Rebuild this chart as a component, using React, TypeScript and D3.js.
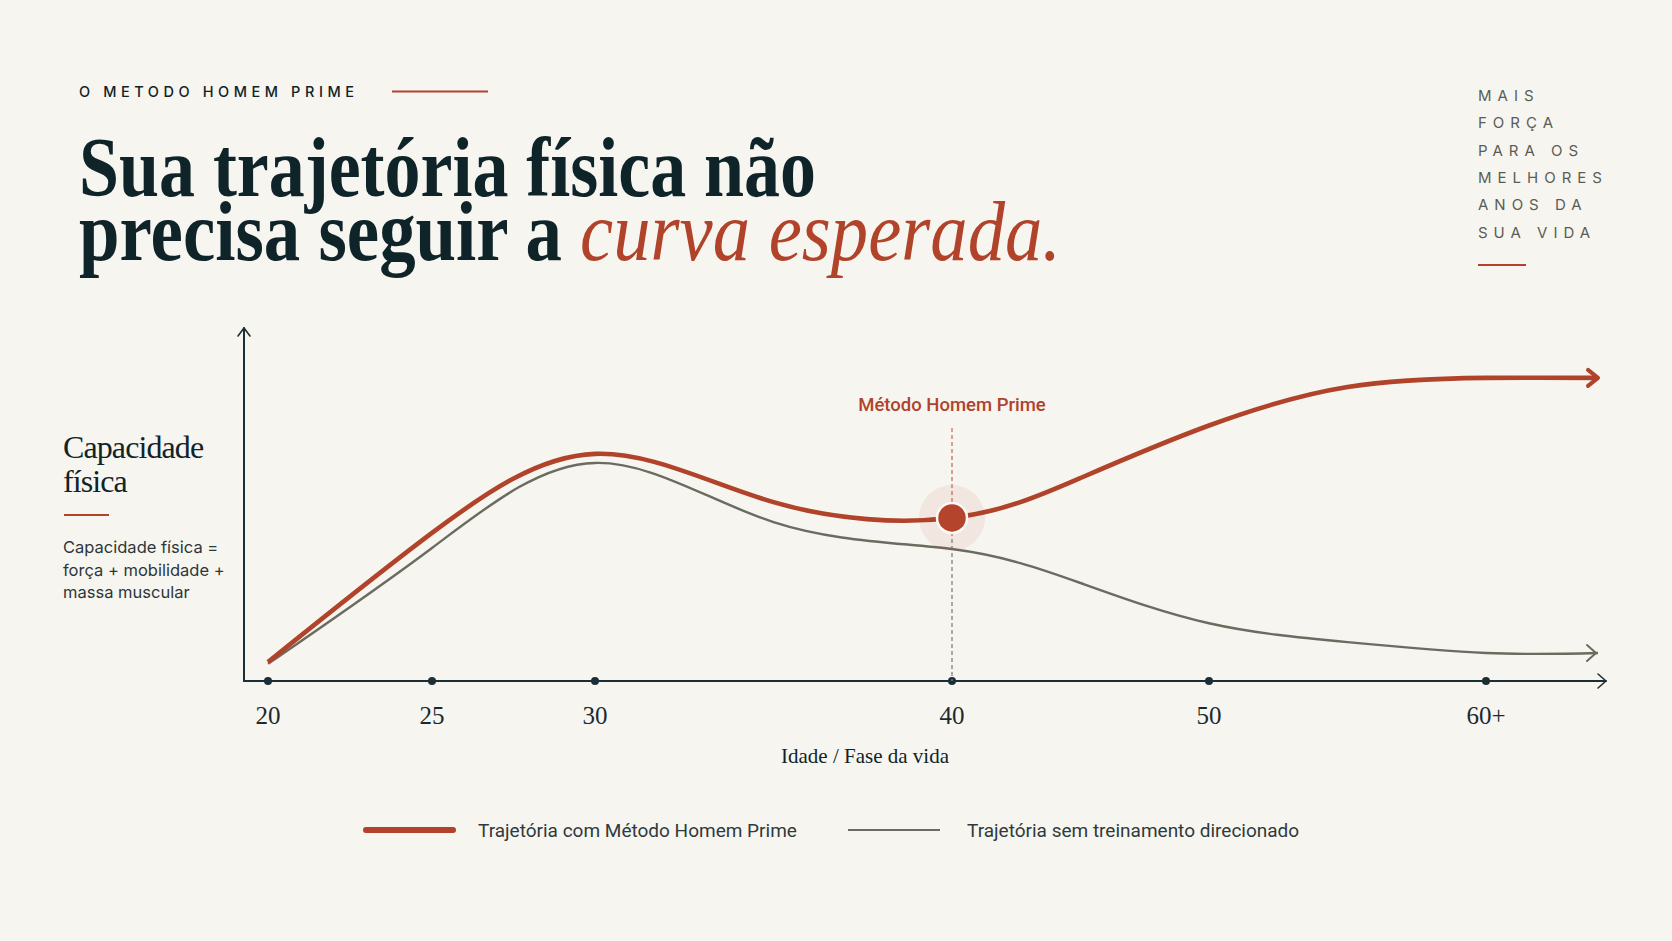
import { useRef, useEffect } from 'react'
import * as d3 from 'd3'

// data (capacity index 0-100)
const ages = [20, 25, 30, 35, 40, 45, 50, 55, 60, 65]
const withMethod = [5.4, 42.3, 64.9, 51.1, 46.6, 58, 73, 84, 86.6, 86.6]
const withoutTraining = [4.9, 38, 62.3, 45.4, 37.7, 28, 16.5, 11.1, 8, 8]
const tickAges = [20, 25, 30, 40, 50, 60]
const tickLabels = ['20', '25', '30', '40', '50', '60+']
const markerAge = 40
const sideWords = ['MAIS', 'FORÇA', 'PARA OS', 'MELHORES', 'ANOS DA', 'SUA VIDA']
const formulaLines = ['Capacidade física =', 'força + mobilidade +', 'massa muscular']
const legendItems = ['Trajetória com Método Homem Prime', 'Trajetória sem treinamento direcionado']

const W = 1672
const H = 941
const BG = '#f7f5f0'
const INK = '#0f2428'
const RED = '#b0432a'
const GRAY = '#6a6c60'
const SERIF = '"Liberation Serif", "DejaVu Serif", serif'
const SANS = 'Inter, "Liberation Sans", sans-serif'
const COND = 'Roboto, "Liberation Sans", sans-serif'

export default function App() {
  const svgRef = useRef<SVGSVGElement>(null)

  useEffect(() => {
    document.body.style.margin = '0'
    document.body.style.background = BG
    if (!svgRef.current) return
    const svg = d3.select(svgRef.current)
    svg.selectAll('*').remove()

    svg.append('rect').attr('width', W).attr('height', H).attr('fill', BG)

    // life-phase axis is not linear, so a piecewise scale
    const x = d3.scaleLinear()
      .domain([20, 25, 30, 40, 50, 60, 65])
      .range([268, 432, 595, 952, 1209, 1486, 1598])
    const y = d3.scaleLinear().domain([0, 100]).range([681, 331])

    const axisLeftX = 244
    const axisRightX = 1606

    // ---- header
    svg.append('text')
      .attr('x', 79).attr('y', 97)
      .attr('font-family', SANS).attr('font-size', 14.5).attr('font-weight', 500)
      .attr('fill', INK)
      .attr('textLength', 275)
      .text('O METODO HOMEM PRIME')
    svg.append('line')
      .attr('x1', 392).attr('x2', 488).attr('y1', 91.5).attr('y2', 91.5)
      .attr('stroke', RED).attr('stroke-width', 2)

    const headline = [
      { t: 'Sua trajetória física não', x: 79, y: 196, w: 737, c: INK, italic: false },
      { t: 'precisa seguir a', x: 79, y: 260, w: 483, c: INK, italic: false },
      { t: 'curva esperada.', x: 580, y: 260, w: 481, c: RED, italic: true }
    ]
    svg.append('g').selectAll('text')
      .data(headline)
      .enter()
      .append('text')
      .attr('x', d => d.x).attr('y', d => d.y)
      .attr('font-family', SERIF).attr('font-size', 84)
      .attr('font-weight', d => d.italic ? 400 : 700)
      .attr('font-style', d => d.italic ? 'italic' : 'normal')
      .attr('fill', d => d.c)
      .attr('textLength', d => d.w)
      .attr('lengthAdjust', 'spacingAndGlyphs')
      .text(d => d.t)

    // right column
    svg.append('g').selectAll('text')
      .data(sideWords)
      .enter()
      .append('text')
      .attr('x', 1478).attr('y', (_, i) => 101 + i * 27.3)
      .attr('font-family', SANS).attr('font-size', 15)
      .attr('letter-spacing', 6)
      .attr('fill', '#5a5d56')
      .text(d => d)
    svg.append('line')
      .attr('x1', 1478).attr('x2', 1526).attr('y1', 265).attr('y2', 265)
      .attr('stroke', RED).attr('stroke-width', 2)

    // ---- y label block
    svg.append('g').selectAll('text')
      .data(['Capacidade', 'física'])
      .enter()
      .append('text')
      .attr('x', 63).attr('y', (_, i) => 458 + i * 34)
      .attr('font-family', SERIF).attr('font-size', 32)
      .attr('letter-spacing', -0.9)
      .attr('fill', INK)
      .text(d => d)
    svg.append('line')
      .attr('x1', 64).attr('x2', 109).attr('y1', 515).attr('y2', 515)
      .attr('stroke', RED).attr('stroke-width', 2)
    svg.append('g').selectAll('text')
      .data(formulaLines)
      .enter()
      .append('text')
      .attr('x', 63).attr('y', (_, i) => 553 + i * 22.5)
      .attr('font-family', SANS).attr('font-size', 16.5)
      .attr('fill', '#2c373a')
      .text(d => d)

    // ---- axes
    const axisG = svg.append('g').attr('stroke', '#1c2f36').attr('fill', 'none')
      .attr('stroke-width', 2).attr('stroke-linecap', 'round').attr('stroke-linejoin', 'round')
    axisG.append('line')
      .attr('x1', axisLeftX).attr('x2', axisLeftX)
      .attr('y1', y(0)).attr('y2', y(100) - 3)
    axisG.append('path')
      .attr('stroke-width', 1.6)
      .attr('d', `M${axisLeftX - 6},${y(100) + 5}L${axisLeftX},${y(100) - 3}L${axisLeftX + 6},${y(100) + 5}`)
    axisG.append('line')
      .attr('x1', axisLeftX).attr('x2', axisRightX)
      .attr('y1', y(0)).attr('y2', y(0))
    axisG.append('path')
      .attr('stroke-width', 1.6)
      .attr('d', `M${axisRightX - 8},${y(0) - 7}L${axisRightX},${y(0)}L${axisRightX - 8},${y(0) + 7}`)

    svg.append('g').selectAll('circle')
      .data(tickAges)
      .enter()
      .append('circle')
      .attr('cx', d => x(d)).attr('cy', y(0)).attr('r', 4)
      .attr('fill', '#1c2f36')

    svg.append('g').selectAll('text')
      .data(tickAges)
      .enter()
      .append('text')
      .attr('x', d => x(d)).attr('y', 724)
      .attr('text-anchor', 'middle')
      .attr('font-family', SERIF).attr('font-size', 25)
      .attr('fill', '#1a2a30')
      .text((_, i) => tickLabels[i])

    svg.append('text')
      .attr('x', 865).attr('y', 763)
      .attr('text-anchor', 'middle')
      .attr('font-family', SERIF).attr('font-size', 21)
      .attr('fill', INK)
      .text('Idade / Fase da vida')

    // ---- marker guide at 40
    const mIdx = ages.indexOf(markerAge)
    const mx = x(markerAge)
    const my = y(withMethod[mIdx])
    svg.append('line')
      .attr('x1', mx).attr('x2', mx).attr('y1', 428).attr('y2', my)
      .attr('stroke', '#c8715c').attr('stroke-width', 1.3).attr('stroke-dasharray', '4,3')
    svg.append('line')
      .attr('x1', mx).attr('x2', mx).attr('y1', my).attr('y2', y(0))
      .attr('stroke', '#8a7d78').attr('stroke-width', 1.3).attr('stroke-dasharray', '4,3')

    svg.append('text')
      .attr('x', mx).attr('y', 411)
      .attr('text-anchor', 'middle')
      .attr('font-family', COND).attr('font-size', 18.5).attr('font-weight', 500)
      .attr('fill', RED)
      .text('Método Homem Prime')

    // ---- curves
    const line = d3.line<number>()
      .x((_, i) => x(ages[i]))
      .y(d => y(d))
      .curve(d3.curveNatural)

    const n = ages.length
    svg.append('path')
      .datum(withoutTraining)
      .attr('d', line)
      .attr('fill', 'none').attr('stroke', GRAY).attr('stroke-width', 2.4)
    const gx = x(ages[n - 1]) - 2
    const gy = y(withoutTraining[n - 1])
    svg.append('path')
      .attr('d', `M${gx - 9},${gy - 8}L${gx},${gy}L${gx - 9},${gy + 8}`)
      .attr('fill', 'none').attr('stroke', GRAY).attr('stroke-width', 2)
      .attr('stroke-linecap', 'round').attr('stroke-linejoin', 'round')

    svg.append('path')
      .datum(withMethod)
      .attr('d', line)
      .attr('fill', 'none').attr('stroke', RED).attr('stroke-width', 4.6)
    const rx = x(ages[n - 1])
    const ry = y(withMethod[n - 1])
    svg.append('path')
      .attr('d', `M${rx - 10},${ry - 8}L${rx},${ry}L${rx - 10},${ry + 8}`)
      .attr('fill', 'none').attr('stroke', RED).attr('stroke-width', 4)
      .attr('stroke-linecap', 'round').attr('stroke-linejoin', 'round')

    // highlighted point
    svg.append('circle')
      .attr('cx', mx).attr('cy', my).attr('r', 33)
      .attr('fill', RED).attr('fill-opacity', 0.08)
    svg.append('circle')
      .attr('cx', mx).attr('cy', my).attr('r', 15)
      .attr('fill', '#b4442b').attr('stroke', '#fbf9f5').attr('stroke-width', 2.5)

    // ---- legend
    const legend = svg.append('g').attr('transform', 'translate(0,830)')
    legend.append('line')
      .attr('x1', 366).attr('x2', 453).attr('y1', 0).attr('y2', 0)
      .attr('stroke', RED).attr('stroke-width', 6).attr('stroke-linecap', 'round')
    legend.append('line')
      .attr('x1', 848).attr('x2', 940).attr('y1', 0).attr('y2', 0)
      .attr('stroke', GRAY).attr('stroke-width', 2.2)
    legend.selectAll('text.item')
      .data(legendItems)
      .enter()
      .append('text')
      .attr('class', 'item')
      .attr('x', (_, i) => i === 0 ? 478 : 967)
      .attr('y', 7)
      .attr('font-family', COND).attr('font-size', 19)
      .attr('fill', '#2f3a3d')
      .text(d => d)
  }, [])

  return (
    <div style={{ width: W, height: H }}>
      <svg ref={svgRef} width={W} height={H} style={{ display: 'block' }} />
    </div>
  )
}
